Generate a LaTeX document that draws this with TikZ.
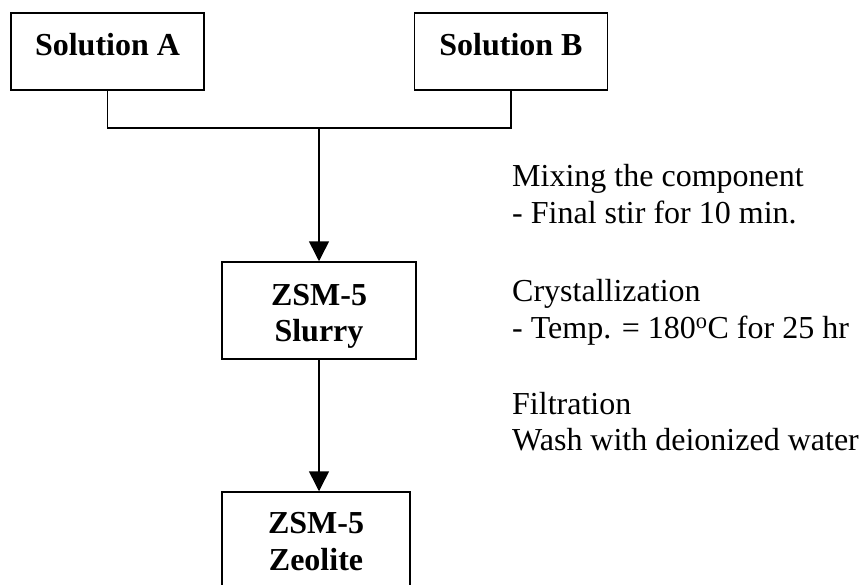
\documentclass[tikz,border=0pt]{standalone}
\usepackage{fontspec}
\setmainfont{Liberation Serif}
\usetikzlibrary{arrows.meta}
\tikzset{
  box/.style={draw=black, line width=1.5pt, rectangle, inner sep=0pt},
  bl/.style={font=\fontsize{32}{38}\selectfont\bfseries, inner sep=0pt, anchor=base},
  note/.style={font=\fontsize{32}{38}\selectfont, inner sep=0pt, anchor=base west},
  conn/.style={line width=1.5pt, draw=black},
  arr/.style={conn, -{Triangle[width=20pt,length=20pt]}}
}
\begin{document}
\begin{tikzpicture}[x=1pt,y=-1pt]
\useasboundingbox (0,0) rectangle (864,584);
% boxes
\node[box, minimum width=193pt, minimum height=77pt] (A) at (107.5,51.5) {};
\node[box, minimum width=193pt, minimum height=77pt] (B) at (511,51.5) {};
\node[box, minimum width=194pt, minimum height=97pt] (S) at (319,310.5) {};
\node[box, minimum width=188pt, minimum height=110pt] (Z) at (316,547) {};
% box texts
\node[bl] (At) at (107.5,55) {Solution A};
\node[bl] (Bt) at (511,55) {Solution B};
\node[bl] (St1) at (319,305) {ZSM-5};
\node[bl] (St2) at (319,341) {Slurry};
\node[bl] (Zt1) at (316,533) {ZSM-5};
\node[bl] (Zt2) at (316,570) {Zeolite};
% connectors
\coordinate (J) at (319,128);
\draw[conn] (A.south) |- (J) -| (B.south);
\draw[arr] (J) -- (S.north);
\draw[arr] (S.south) -- (S.south |- Z.north);
% notes
\node[note] (n1) at (512,186) {Mixing the component};
\node[note] (n2) at (512,223) {- Final stir for 10 min.};
\node[note] (n3) at (512,301) {Crystallization};
\node[note] (n4) at (512,338) {- Temp. = 180\textsuperscript{o}C for 25 hr};
\node[note] (n5) at (512,414) {Filtration};
\node[note] (n6) at (512,450) {Wash with deionized water};
\end{tikzpicture}
\end{document}
